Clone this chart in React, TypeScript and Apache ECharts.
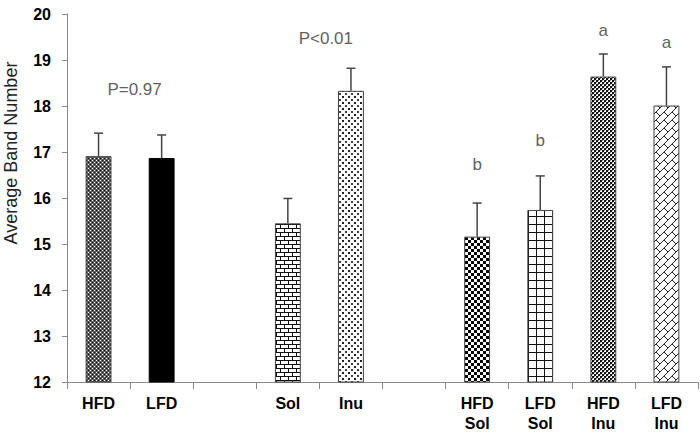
import React, { useEffect, useRef } from "react";
import * as echarts from "echarts";

const categories = ["HFD", "LFD", "", "Sol", "Inu", "", "HFD\nSol", "LFD\nSol", "HFD\nInu", "LFD\nInu"];
const means: (number | null)[] = [16.91, 16.87, null, 15.45, 18.33, null, 15.16, 15.74, 18.64, 18.01];
const errors: (number | null)[] = [0.5, 0.5, null, 0.54, 0.49, null, 0.73, 0.74, 0.49, 0.84];
const annotationText = ["P=0.97", "P<0.01", "b", "b", "a", "a"];
const annotationCat = [0, 3, 6, 7, 8, 9];
const annotationY = [18.35, 19.46, 16.72, 17.26, 19.65, 19.37];
const yTicks = { min: 12, max: 20, interval: 1 };

function makePattern(w: number, h: number, draw: (ctx: CanvasRenderingContext2D) => void): string {
  const c = document.createElement("canvas");
  c.width = w;
  c.height = h;
  const ctx = c.getContext("2d")!;
  draw(ctx);
  return c.toDataURL();
}

function buildPatterns() {
  const px = (ctx: CanvasRenderingContext2D, x: number, y: number, col: string, s = 1) => {
    ctx.fillStyle = col;
    ctx.fillRect(x, y, s, s);
  };
  const hfd = makePattern(4, 4, (ctx) => {
    ctx.fillStyle = "#5e5e5e";
    ctx.fillRect(0, 0, 4, 4);
    px(ctx, 0, 0, "#ffffff");
    px(ctx, 2, 2, "#ffffff");
    px(ctx, 2, 0, "#111111");
    px(ctx, 0, 2, "#111111");
  });
  const sol = makePattern(8, 8, (ctx) => {
    ctx.fillStyle = "#ffffff";
    ctx.fillRect(0, 0, 8, 8);
    ctx.fillStyle = "#111111";
    ctx.fillRect(0, 0, 8, 1);
    ctx.fillRect(0, 4, 8, 1);
    ctx.fillRect(0, 0, 1, 4);
    ctx.fillRect(4, 4, 1, 4);
  });
  const inu = makePattern(6, 6, (ctx) => {
    ctx.fillStyle = "#ffffff";
    ctx.fillRect(0, 0, 6, 6);
    px(ctx, 0, 0, "#222222", 2);
    px(ctx, 3, 3, "#444444", 2);
  });
  const hfdSol = makePattern(6, 6, (ctx) => {
    ctx.fillStyle = "#ffffff";
    ctx.fillRect(0, 0, 6, 6);
    px(ctx, 0, 0, "#000000", 3);
    px(ctx, 3, 3, "#000000", 3);
  });
  const lfdSol = makePattern(8, 8, (ctx) => {
    ctx.fillStyle = "#ffffff";
    ctx.fillRect(0, 0, 8, 8);
    ctx.fillStyle = "#111111";
    ctx.fillRect(0, 0, 8, 1);
    ctx.fillRect(0, 0, 1, 8);
  });
  const hfdInu = makePattern(4, 4, (ctx) => {
    ctx.fillStyle = "#ffffff";
    ctx.fillRect(0, 0, 4, 4);
    px(ctx, 0, 0, "#111111", 2);
    px(ctx, 2, 2, "#111111", 2);
    px(ctx, 2, 0, "#888888", 1);
    px(ctx, 0, 2, "#888888", 1);
  });
  const lfdInu = makePattern(8, 8, (ctx) => {
    ctx.fillStyle = "#ffffff";
    ctx.fillRect(0, 0, 8, 8);
    ctx.strokeStyle = "#222222";
    ctx.lineWidth = 1;
    ctx.beginPath();
    ctx.moveTo(0, 8);
    ctx.lineTo(8, 0);
    ctx.moveTo(0, 0);
    ctx.lineTo(4, 4);
    ctx.stroke();
  });
  return [hfd, null, null, sol, inu, null, hfdSol, lfdSol, hfdInu, lfdInu];
}

const annotationOffsets = [[36, 0], [38, 0], [0, 0], [0, 0], [0, 0], [0, 0]];
const FONT = "Liberation Sans, Arial, sans-serif";

export default function App() {
  const ref = useRef<HTMLDivElement>(null);
  useEffect(() => {
    if (!ref.current) return;
    const chart = echarts.init(ref.current, undefined, { renderer: "svg" });
    const patterns = buildPatterns();
    const barData = means.map((m, i) => {
      if (m === null) return { value: null };
      const pat = patterns[i];
      return {
        value: m,
        itemStyle: {
          color: pat ? { image: pat, repeat: "repeat" } : "#000000",
          borderColor: i === 1 ? "#000000" : "#444444",
          borderWidth: 1,
        },
      };
    });
    const errData: number[][] = [];
    means.forEach((m, i) => {
      if (m !== null && errors[i] !== null) errData.push([i, m, errors[i] as number]);
    });
    const annData = annotationCat.map((c, i) => ({
      value: [c, annotationY[i]],
      label: {
        show: true,
        formatter: annotationText[i],
        position: "inside",
        offset: annotationOffsets[i],
        color: "#333333",
        fontSize: 17,
        fontFamily: FONT,
      },
    }));
    chart.setOption({
      animation: false,
      grid: { left: 67, right: 2, top: 14, bottom: 52, containLabel: false },
      xAxis: {
        type: "category",
        data: categories,
        boundaryGap: true,
        axisLine: { lineStyle: { color: "#8a8a8a", width: 1 } },
        axisTick: { show: true, alignWithLabel: false, length: 7, lineStyle: { color: "#8a8a8a" } },
        axisLabel: {
          interval: 0,
          margin: 11,
          color: "#000000",
          fontWeight: "bold",
          fontSize: 16,
          lineHeight: 20,
          fontFamily: FONT,
        },
      },
      yAxis: {
        type: "value",
        min: yTicks.min,
        max: yTicks.max,
        interval: yTicks.interval,
        axisLine: { show: true, lineStyle: { color: "#8a8a8a", width: 1 } },
        axisTick: { show: true, length: 5, lineStyle: { color: "#8a8a8a" } },
        splitLine: { show: false },
        axisLabel: {
          margin: 16,
          color: "#000000",
          fontWeight: "bold",
          fontSize: 16,
          fontFamily: FONT,
        },
      },
      graphic: [
        {
          type: "text",
          x: 11,
          y: 153,
          rotation: Math.PI / 2,
          style: {
            text: "Average Band Number",
            fill: "#222222",
            fontSize: 18,
            fontFamily: FONT,
            textAlign: "center",
            textVerticalAlign: "middle",
          },
        },
      ],
      series: [
        {
          type: "bar",
          data: barData,
          barWidth: "41%",
          z: 2,
        },
        {
          type: "custom",
          z: 3,
          data: errData,
          renderItem: (params: any, api: any) => {
            const x = api.value(0);
            const m = api.value(1);
            const e = api.value(2);
            const p0 = api.coord([x, m]);
            const p1 = api.coord([x, m + e]);
            const style = { stroke: "#444444", lineWidth: 1.5 };
            return {
              type: "group",
              children: [
                { type: "line", shape: { x1: p0[0], y1: p0[1], x2: p1[0], y2: p1[1] }, style },
                { type: "line", shape: { x1: p1[0] - 4.5, y1: p1[1], x2: p1[0] + 4.5, y2: p1[1] }, style },
              ],
            };
          },
        },
        {
          type: "scatter",
          z: 4,
          symbolSize: 1,
          itemStyle: { color: "transparent" },
          data: annData,
        },
      ],
    });
    return () => chart.dispose();
  }, []);
  return <div ref={ref} style={{ width: 700, height: 434, position: "absolute", left: 0, top: 0 }} />;
}
